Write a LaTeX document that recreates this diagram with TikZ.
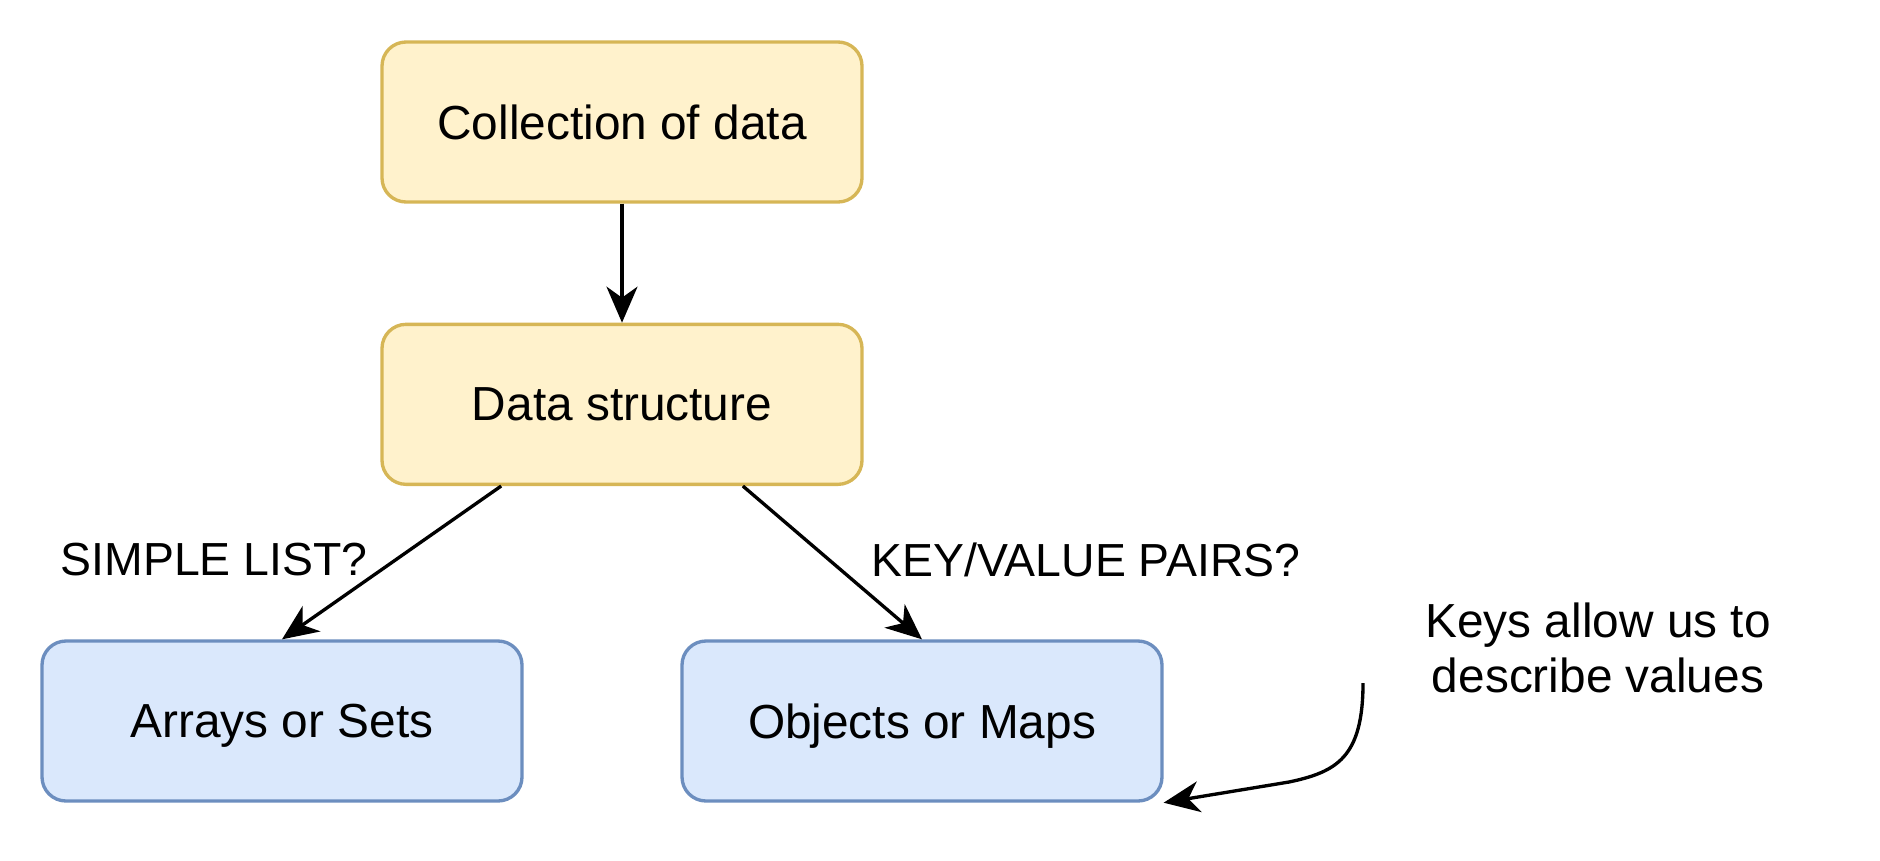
\documentclass[tikz,border=0pt]{standalone}
\usepackage{fontspec}
\setmainfont{Liberation Sans}
\usepackage{xcolor}
\definecolor{collfill}{HTML}{FFF2CC}
\definecolor{collline}{HTML}{D6B656}
\definecolor{kindfill}{HTML}{DAE8FC}
\definecolor{kindline}{HTML}{6C8EBF}
\usepackage{tikz}
\usetikzlibrary{arrows.meta, positioning, calc}

\begin{document}
\begin{tikzpicture}[
  box/.style={rounded corners=0.24cm, line width=0.95pt, minimum width=4.8cm,
    minimum height=1.6cm, inner sep=0pt, text depth=0pt,
    font=\fontsize{13.6}{16}\selectfont},
  yellowbox/.style={box, draw=collline, fill=collfill},
  bluebox/.style={box, draw=kindline, fill=kindfill},
  arr/.style={line width=0.95pt, -{Stealth[length=0.36cm, width=0.31cm, inset=0.11cm]}},
  lbl/.style={font=\fontsize{13.2}{16}\selectfont, inner sep=0pt}
]
\useasboundingbox (0,0) rectangle (18.8,-8.6);

% top chain
\node[yellowbox] (coll) at (6.22,-1.22) {Collection of data};
\node[yellowbox, below=1.19cm of coll] (dstruct) {Data structure};

% the two kinds
\node[bluebox] (arrays) at (2.82,-7.21) {Arrays or Sets};
\node[bluebox] (objects) at (9.22,-7.21) {Objects or Maps};

\draw[arr] (coll) -- (dstruct);
\draw[arr] ($(dstruct.south west)!0.25!(dstruct.south east)$) -- (arrays.north);
\draw[arr] ($(dstruct.south west)!0.75!(dstruct.south east)$) -- (objects.north);

\node[lbl] (simple) at (2.14,-5.60) {SIMPLE LIST?};
\node[lbl] (keyval) at (10.86,-5.60) {KEY/VALUE PAIRS?};

% note with curved pointer
\node[lbl, align=center, font=\fontsize{13.6}{15.6}\selectfont] (note) at (15.98,-6.48)
  {Keys allow us to\\describe values};
\coordinate (kstart) at (13.63,-6.83);
\draw[arr] (kstart) .. controls (13.63,-7.58) and (13.36,-7.72) .. (12.89,-7.82)
  -- (objects.south east);
\end{tikzpicture}
\end{document}
